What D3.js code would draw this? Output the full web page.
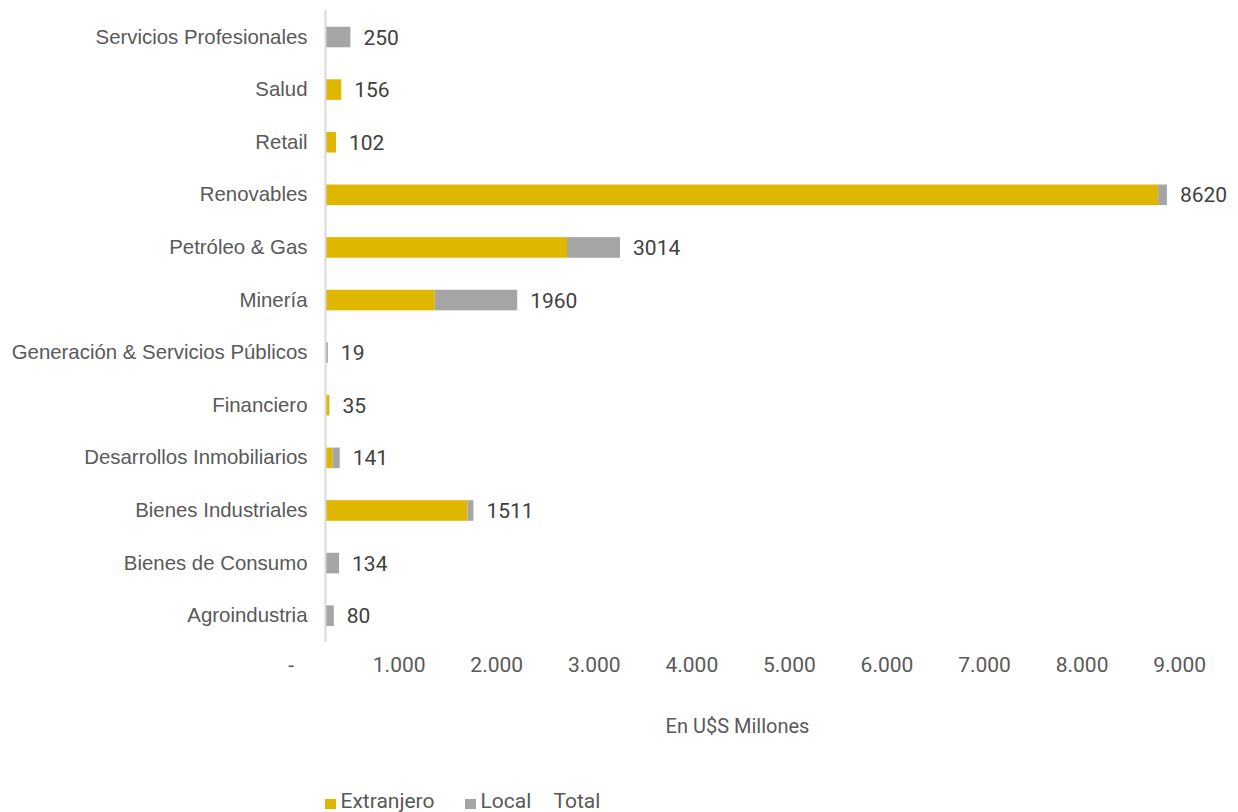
<!DOCTYPE html>
<html lang="es">
<head>
<meta charset="utf-8">
<script src="https://cdn.jsdelivr.net/npm/d3@7"></script>
<style>
  html, body { margin: 0; padding: 0; background: #fff; }
  svg { display: block; font-family: Roboto, "Noto Sans", sans-serif; }
</style>
</head>
<body>
<svg id="chart" width="1238" height="812"></svg>
<script>
// Inversiones anunciadas por sector, en millones de US$
const categories = [
  "Servicios Profesionales", "Salud", "Retail", "Renovables", "Petróleo & Gas",
  "Minería", "Generación & Servicios Públicos", "Financiero",
  "Desarrollos Inmobiliarios", "Bienes Industriales", "Bienes de Consumo", "Agroindustria"
];
const extranjero = [0, 156, 102, 8530, 2470, 1115, 0, 35, 65, 1450, 0, 0];
const local      = [250, 0, 0, 90, 544, 845, 19, 0, 76, 61, 134, 80];
const totals     = [250, 156, 102, 8620, 3014, 1960, 19, 35, 141, 1511, 134, 80];
const xTicks = [0, 1000, 2000, 3000, 4000, 5000, 6000, 7000, 8000, 9000];
const seriesNames = ["Extranjero", "Local", "Total"];
const seriesColors = ["#E0B700", "#A5A5A5", null];

const svg = d3.select("#chart");
const textColor = "#595959";

const x = d3.scaleLinear().domain([0, 9000]).range([326, 1204]);
const y = d3.scaleBand().domain(categories).range([10.7, 642]).paddingInner(0.608).paddingOuter(0.304);

const rows = categories.map((c, i) => ({ cat: c, ext: extranjero[i], loc: local[i], tot: totals[i] }));

// stacked bars: foreign first, local on top of it
const g = svg.append("g");
g.selectAll("rect.ext").data(rows).join("rect")
  .attr("class", "ext")
  .attr("x", x(0))
  .attr("y", d => y(d.cat))
  .attr("width", d => x(d.ext) - x(0))
  .attr("height", y.bandwidth())
  .attr("fill", seriesColors[0]);

g.selectAll("rect.loc").data(rows).join("rect")
  .attr("class", "loc")
  .attr("x", d => x(d.ext))
  .attr("y", d => y(d.cat))
  .attr("width", d => x(d.ext + d.loc) - x(d.ext))
  .attr("height", y.bandwidth())
  .attr("fill", seriesColors[1]);

// total labels at the end of each bar
g.selectAll("text.tot").data(rows).join("text")
  .attr("class", "tot")
  .attr("x", d => x(d.tot) + 13)
  .attr("y", d => y(d.cat) + y.bandwidth() / 2)
  .attr("dy", "0.36em")
  .attr("font-size", 21)
  .attr("fill", "#404040")
  .text(d => d.tot);

// category axis
const yAxis = svg.append("g")
  .attr("transform", `translate(${x(0) - 0.5},0)`)
  .call(d3.axisLeft(y).tickSize(0).tickPadding(18));
yAxis.select(".domain").attr("stroke", "#D9D9D9").attr("stroke-width", 2)
  .attr("d", "M0,10V642");
yAxis.selectAll("text").attr("font-size", 20.4).attr("fill", textColor).attr("font-family", null);

// value axis labels
const fmt = v => v === 0 ? "-" : d3.format(",")(v).replace(/,/g, ".");
const xAxis = svg.append("g")
  .attr("transform", "translate(0,672)");
xAxis.selectAll("text").data(xTicks).join("text")
  .attr("x", d => d === 0 ? x(d) - 32 : x(d) + 2)
  .attr("text-anchor", "end")
  .attr("font-size", 21)
  .attr("fill", textColor)
  .text(fmt);

svg.append("text")
  .attr("x", 737.5).attr("y", 733)
  .attr("text-anchor", "middle")
  .attr("font-size", 20)
  .attr("fill", textColor)
  .text("En U$S Millones");

// legend
const legendX = [325, 465, 538];
const legend = svg.append("g");
seriesNames.forEach((name, i) => {
  if (seriesColors[i]) {
    legend.append("rect")
      .attr("x", legendX[i]).attr("y", 799)
      .attr("width", 11).attr("height", 10)
      .attr("fill", seriesColors[i]);
  }
  legend.append("text")
    .attr("x", legendX[i] + 15.5).attr("y", 808)
    .attr("font-size", 21)
    .attr("fill", textColor)
    .text(name);
});
</script>
</body>
</html>
